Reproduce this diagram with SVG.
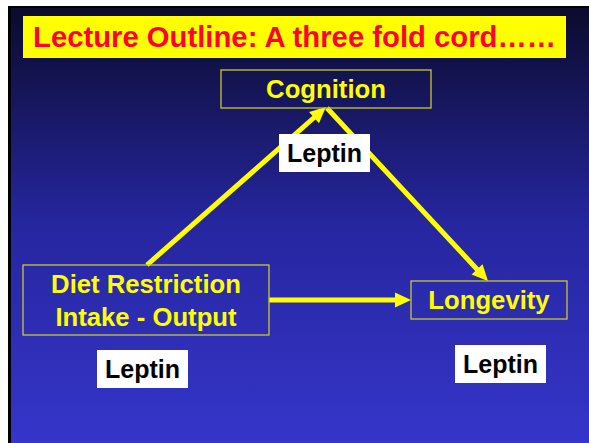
<svg xmlns="http://www.w3.org/2000/svg" width="589" height="443" viewBox="0 0 589 443">
<defs>
<linearGradient id="bg" x1="0" y1="0" x2="0" y2="1">
<stop offset="0" stop-color="#0b0b2c"/>
<stop offset="0.5" stop-color="#2626a0"/>
<stop offset="1" stop-color="#3535ca"/>
</linearGradient>
<marker id="ah" markerUnits="userSpaceOnUse" markerWidth="16" markerHeight="15" refX="4" refY="7.5" orient="auto" overflow="visible">
<path d="M0,0 L16,7.5 L0,15 Z" fill="#ffff00"/>
</marker>
<style>
.node{fill:none;stroke:#c8c832;stroke-width:1.3}
.nt{font-family:"Liberation Sans",Arial,sans-serif;font-weight:bold;font-size:25.7px;fill:#ffff00;text-anchor:middle}
.lab{fill:#ffffff}
.lt{font-family:"Liberation Sans",Arial,sans-serif;font-weight:bold;font-size:25px;fill:#000000;text-anchor:middle}
.conn{stroke:#ffff00;stroke-width:5;fill:none;marker-end:url(#ah)}
</style>
</defs>
<rect x="0" y="0" width="589" height="443" fill="#ffffff"/>
<rect x="8" y="6" width="581" height="437" fill="#000000"/>
<rect x="11" y="8" width="578" height="435" fill="url(#bg)"/>
<g id="title">
<rect x="23" y="16" width="543" height="42" fill="#ffff00"/>
<text x="33" y="47" font-family="'Liberation Sans',Arial,sans-serif" font-weight="bold" font-size="29px" fill="#ff0033" textLength="523" lengthAdjust="spacingAndGlyphs">Lecture Outline: A three fold cord……</text>
</g>
<g id="connectors">
<line class="conn" x1="147" y1="265" x2="317" y2="115"/>
<line class="conn" x1="327" y1="108" x2="479.8" y2="272.2"/>
<line class="conn" x1="269" y1="300" x2="399" y2="300"/>
</g>
<g id="cognition">
<rect class="node" x="221" y="70" width="210" height="38"/>
<text class="nt" x="326" y="98">Cognition</text>
</g>
<g id="diet">
<rect class="node" x="23" y="265" width="246" height="70"/>
<text class="nt" x="146" y="293">Diet Restriction</text>
<text class="nt" x="146" y="326">Intake - Output</text>
</g>
<g id="longevity">
<rect class="node" x="411" y="281" width="156" height="38"/>
<text class="nt" x="489" y="309">Longevity</text>
</g>
<g id="leptin-top">
<rect class="lab" x="279" y="134" width="91" height="38"/>
<text class="lt" x="324.5" y="162">Leptin</text>
</g>
<g id="leptin-left">
<rect class="lab" x="97" y="350" width="91" height="38"/>
<text class="lt" x="142.5" y="378">Leptin</text>
</g>
<g id="leptin-right">
<rect class="lab" x="455" y="345" width="91" height="38"/>
<text class="lt" x="500.5" y="373">Leptin</text>
</g>
</svg>
